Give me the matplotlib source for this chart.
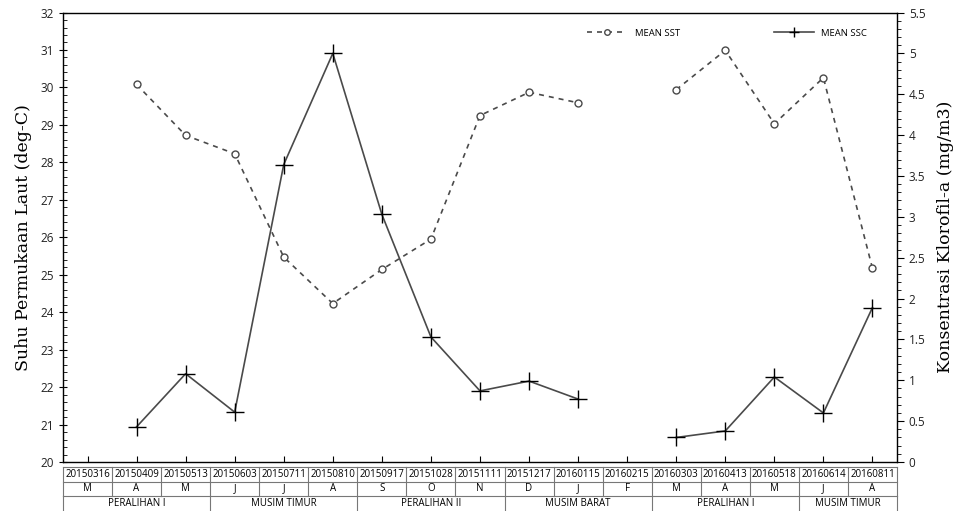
import numpy as np
import matplotlib
matplotlib.use('Agg')
import matplotlib.pyplot as plt
from matplotlib.lines import Line2D
from matplotlib.ticker import MultipleLocator

# Data (nan = no data)
dates = ['20150316', '20150409', '20150513', '20150603', '20150711', '20150810',
         '20150917', '20151028', '20151111', '20151217', '20160115', '20160215',
         '20160303', '20160413', '20160518', '20160614', '20160811']
months = ['M', 'A', 'M', 'J', 'J', 'A', 'S', 'O', 'N', 'D', 'J', 'F',
          'M', 'A', 'M', 'J', 'A']
seasons = ['PERALIHAN I', 'MUSIM TIMUR', 'PERALIHAN II', 'MUSIM BARAT',
           'PERALIHAN I', 'MUSIM TIMUR']
season_len = [3, 3, 3, 3, 3, 2]

mean_sst = [np.nan, 30.08, 28.72, 28.23, 25.47, 24.23, 25.14, 25.95, 29.25,
            29.87, 29.59, np.nan, 29.94, 30.99, 29.03, 30.26, 25.17]
mean_ssc = [np.nan, 0.43, 1.08, 0.61, 3.64, 5.00, 3.03, 1.53, 0.87,
            0.99, 0.77, np.nan, 0.30, 0.38, 1.04, 0.60, 1.89]

sst_label = "MEAN SST"
ssc_label = "MEAN SSC"
y1_description = "Suhu Permukaan Laut (deg-C)"
y2_description = "Konsentrasi Klorofil-a (mg/m3)"

tick_font = 'Open Sans'
label_font = 'DejaVu Serif'
line_color = '#4a4a4a'
sst_style = dict(linestyle=(0, (3, 3)), color=line_color, linewidth=1.2,
                 marker='o', mfc='white', mec=line_color, mew=1.0)
ssc_style = dict(linestyle='-', color=line_color, linewidth=1.2,
                 marker='+', mec='black', mew=1.0)

fig = plt.figure(figsize=(9.57, 5.11), dpi=100)
ax1 = fig.add_axes([0.0658, 0.0959, 0.8715, 0.8796])
ax2 = ax1.twinx()

x = np.arange(len(dates))

# Results plotting
ax1.plot(x, mean_sst, markersize=5, **sst_style)
ax2.plot(x, mean_ssc, markersize=13, **ssc_style)

ax1.set_xlim(-0.5, len(dates) - 0.5)
ax1.set_ylim(20, 32)
ax2.set_ylim(0, 5.5)

ax1.yaxis.set_major_locator(MultipleLocator(1))
ax1.yaxis.set_minor_locator(MultipleLocator(0.2))
ax2.yaxis.set_major_locator(MultipleLocator(0.5))
ax2.yaxis.set_minor_locator(MultipleLocator(0.1))
ax2.set_yticks(ax2.get_yticks())
ax2.set_yticklabels(['{:g}'.format(v) for v in ax2.get_yticks()])
ax2.set_ylim(0, 5.5)

ax1.set_xticks(x)
ax1.set_xticklabels([])
ax1.tick_params(axis='x', direction='in', length=4, color='black')
ax1.tick_params(axis='y', which='major', direction='inout', length=6, labelsize=8.5)
ax1.tick_params(axis='y', which='minor', direction='in', length=3)
ax2.tick_params(axis='y', which='major', direction='out', length=5, labelsize=8.5)
ax2.tick_params(axis='y', which='minor', direction='out', length=3)
for lab in ax1.get_yticklabels() + ax2.get_yticklabels():
    lab.set_fontfamily(tick_font)
    lab.set_color('#222222')

for sp in ax1.spines.values():
    sp.set_color('#333333')
    sp.set_linewidth(1.0)

ax1.set_ylabel(y1_description, fontsize=12.5, family=label_font, labelpad=6)
ax2.set_ylabel(y2_description, fontsize=12.5, family=label_font, labelpad=8)

# Legend with small markers
h1 = Line2D([], [], markersize=4, **sst_style)
h2 = Line2D([], [], markersize=7, **ssc_style)
fig.legend([h1, h2], [sst_label, ssc_label], loc='center', bbox_to_anchor=(0.76, 0.935),
           ncol=2, frameon=False, handlelength=4.2, columnspacing=10,
           prop={'family': tick_font, 'size': 6.8})

# Category table below the axis
trans = ax1.get_xaxis_transform()
rows = [-0.0122, -0.0445, -0.0756, -0.115]
grid_kw = dict(color='#777777', linewidth=0.8, clip_on=False, transform=trans)
for r in rows[:3]:
    ax1.plot([-0.5, len(dates) - 0.5], [r, r], **grid_kw)
for i in range(len(dates) + 1):
    ax1.plot([i - 0.5, i - 0.5], [rows[0], rows[2]], **grid_kw)
for i, (d, m) in enumerate(zip(dates, months)):
    ax1.text(i, (rows[0] + rows[1]) / 2, d, transform=trans, ha='center', va='center',
             fontsize=7.0, family=tick_font, clip_on=False)
    ax1.text(i, (rows[1] + rows[2]) / 2, m, transform=trans, ha='center', va='center',
             fontsize=7.0, family=tick_font, clip_on=False)
start = 0
ax1.plot([-0.5, -0.5], [rows[2], rows[3]], **grid_kw)
for s, n in zip(seasons, season_len):
    ax1.text(start + (n - 1) / 2, (rows[2] + rows[3]) / 2 + 0.003, s, transform=trans,
             ha='center', va='center', fontsize=7.0, family=tick_font, clip_on=False)
    start += n
    ax1.plot([start - 0.5, start - 0.5], [rows[2], rows[3]], **grid_kw)

fig.savefig('out.png', dpi=100)
